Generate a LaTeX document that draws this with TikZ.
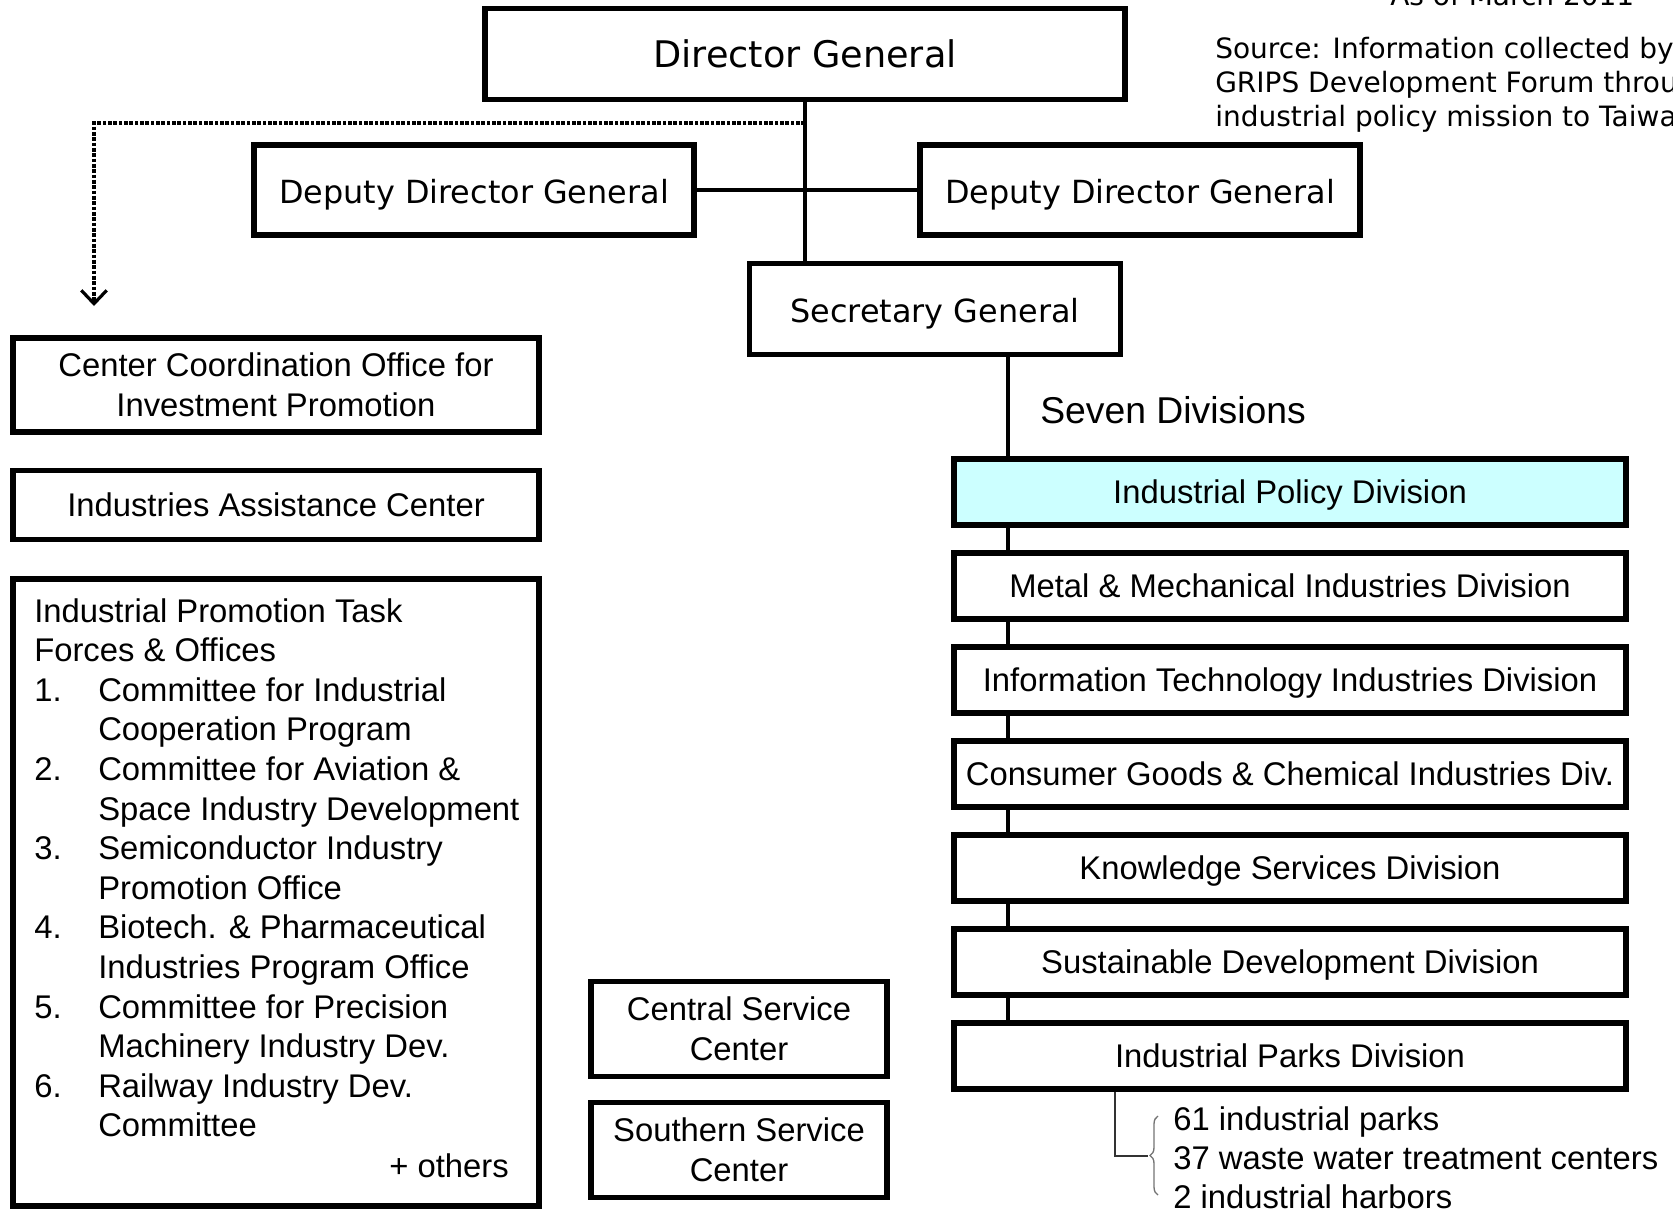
\documentclass[tikz,border=0pt]{standalone}
\usepackage{fontspec}
\usetikzlibrary{arrows.meta,decorations.pathreplacing}
\newfontfamily\verdfont{DejaVu Sans}
\newfontfamily\arialfont{Liberation Sans}
\definecolor{policycyan}{RGB}{204,255,255}

\begin{document}
\begin{tikzpicture}[x=0.75pt,y=-0.75pt,
  box/.style={draw, line width=3.8pt, fill=white, inner sep=0pt, align=center},
  dgfont/.style={font=\verdfont\fontsize{27.5}{33}\selectfont},
  topfont/.style={font=\verdfont\fontsize{23.9}{28}\selectfont, text height=20.4pt, text depth=0pt},
  srcfont/.style={font=\verdfont\fontsize{21}{25.5}\selectfont},
  bodyfont/.style={font=\arialfont\fontsize{24.6}{30}\selectfont},
  listfont/.style={font=\arialfont\fontsize{24.6}{29.7}\selectfont},
  headfont/.style={font=\arialfont\fontsize{28}{33}\selectfont},
  conn/.style={line width=3pt},
  dotline/.style={line width=3.2pt, dash pattern=on 2.8pt off 1.2pt,
    -{Straight Barb[length=10pt, width=19pt, line width=2.4pt]}},
  divbox/.style={box, bodyfont, text height=17.6pt, text depth=0pt,
    minimum width=504pt, minimum height=49.5pt},
  sidebox/.style={box, bodyfont, minimum width=394.5pt},
  svcbox/.style={box, bodyfont, minimum width=222pt, minimum height=71.25pt},
  thinconn/.style={line width=1.5pt, black!80},
  bracestyle/.style={line width=1pt, black!55, decorate, decoration={brace, amplitude=6pt}}
]
\useasboundingbox (0,0) rectangle (1673,1209);
\clip (0,0) rectangle (1673,1209);

% date and source note
\node[srcfont, anchor=base west, inner sep=0pt] (asof) at (1390,6) {As of March 2011};
\node[srcfont, anchor=north west, align=left, inner sep=0pt] (source) at (1215,37)
  {Source: Information collected by\\GRIPS Development Forum through\\industrial policy mission to Taiwan};

% top management
\node[box, dgfont, minimum width=480pt, minimum height=68.25pt] (dg) at (805,54) {Director General};
\node[box, topfont, minimum width=330pt, minimum height=67.5pt] (depL) at (474,190) {Deputy Director General};
\node[box, topfont, minimum width=330pt, minimum height=67.5pt] (depR) at (1140,190) {Deputy Director General};
\node[box, topfont, minimum width=278.25pt, minimum height=68.25pt] (sec) at (935,309) {Secretary General};

\draw[conn] (dg.south) -- (dg.south |- sec.north);
\draw[conn] (depL.east) -- (depR.west);

% dotted link to the attached offices
\coordinate (dotcorner) at (94,123);
\coordinate (dotend) at (94,306);
\draw[dotline] (dg.south |- dotcorner) -- (dotcorner) -- (dotend);

% attached offices on the left
\node[sidebox, minimum height=70.5pt] (cco) at (276,385) {Center Coordination Office for\\Investment Promotion};
\node[sidebox, minimum height=51.75pt, text height=17.6pt, text depth=0pt] (iac) at (276,505) {Industries Assistance Center};
\node[box, minimum width=394.5pt, minimum height=470.25pt] (ipt) at (276,892.5) {};
\node[listfont, anchor=north west, align=left, inner sep=0pt] (iptlist) at (34,598)
  {Industrial Promotion Task\\
   Forces \& Offices\\
   \makebox[48pt][l]{1.}Committee for Industrial\\
   \hspace*{48pt}Cooperation Program\\
   \makebox[48pt][l]{2.}Committee for Aviation \&\\
   \hspace*{48pt}Space Industry Development\\
   \makebox[48pt][l]{3.}Semiconductor Industry\\
   \hspace*{48pt}Promotion Office\\
   \makebox[48pt][l]{4.}Biotech. \& Pharmaceutical\\
   \hspace*{48pt}Industries Program Office\\
   \makebox[48pt][l]{5.}Committee for Precision\\
   \hspace*{48pt}Machinery Industry Dev.\\
   \makebox[48pt][l]{6.}Railway Industry Dev.\\
   \hspace*{48pt}Committee};
\node[listfont, anchor=base east, inner sep=0pt] (others) at (509,1177) {+ others};

% regional service centers
\node[svcbox] (central) at (739,1029) {Central Service\\Center};
\node[svcbox] (southern) at (739,1150) {Southern Service\\Center};

% seven divisions
\node[headfont, anchor=west, inner sep=0pt] (seven) at (1040,410) {Seven Divisions};
\node[divbox, fill=policycyan] (d1) at (1290,492) {Industrial Policy Division};
\node[divbox] (d2) at (1290,586) {Metal \& Mechanical Industries Division};
\node[divbox] (d3) at (1290,680) {Information Technology Industries Division};
\node[divbox] (d4) at (1290,774) {Consumer Goods \& Chemical Industries Div.};
\node[divbox] (d5) at (1290,868) {Knowledge Services Division};
\node[divbox] (d6) at (1290,962) {Sustainable Development Division};
\node[divbox] (d7) at (1290,1056) {Industrial Parks Division};

\coordinate (spine) at (1008,0);
\draw[conn] (sec.south -| spine) -- (d1.north -| spine);
\foreach \a/\b in {d1/d2,d2/d3,d3/d4,d4/d5,d5/d6,d6/d7}
  \draw[conn] (\a.south -| spine) -- (\b.north -| spine);

% industrial parks details
\coordinate (parkx) at (1115,0);
\coordinate (bracetip) at (1148,1156);
\draw[thinconn] (d7.south -| parkx) |- (bracetip);
\coordinate (bracetop) at (1158,1116);
\coordinate (bracebot) at (1158,1195);
\draw[bracestyle] (bracebot) -- (bracetop);
\node[bodyfont, anchor=base west, inner sep=0pt] (parks) at (1173,1130) {61 industrial parks};
\node[bodyfont, anchor=base west, inner sep=0pt] (waste) at (1173,1169) {37 waste water treatment centers};
\node[bodyfont, anchor=base west, inner sep=0pt] (harbors) at (1173,1208) {2 industrial harbors};
\end{tikzpicture}
\end{document}
